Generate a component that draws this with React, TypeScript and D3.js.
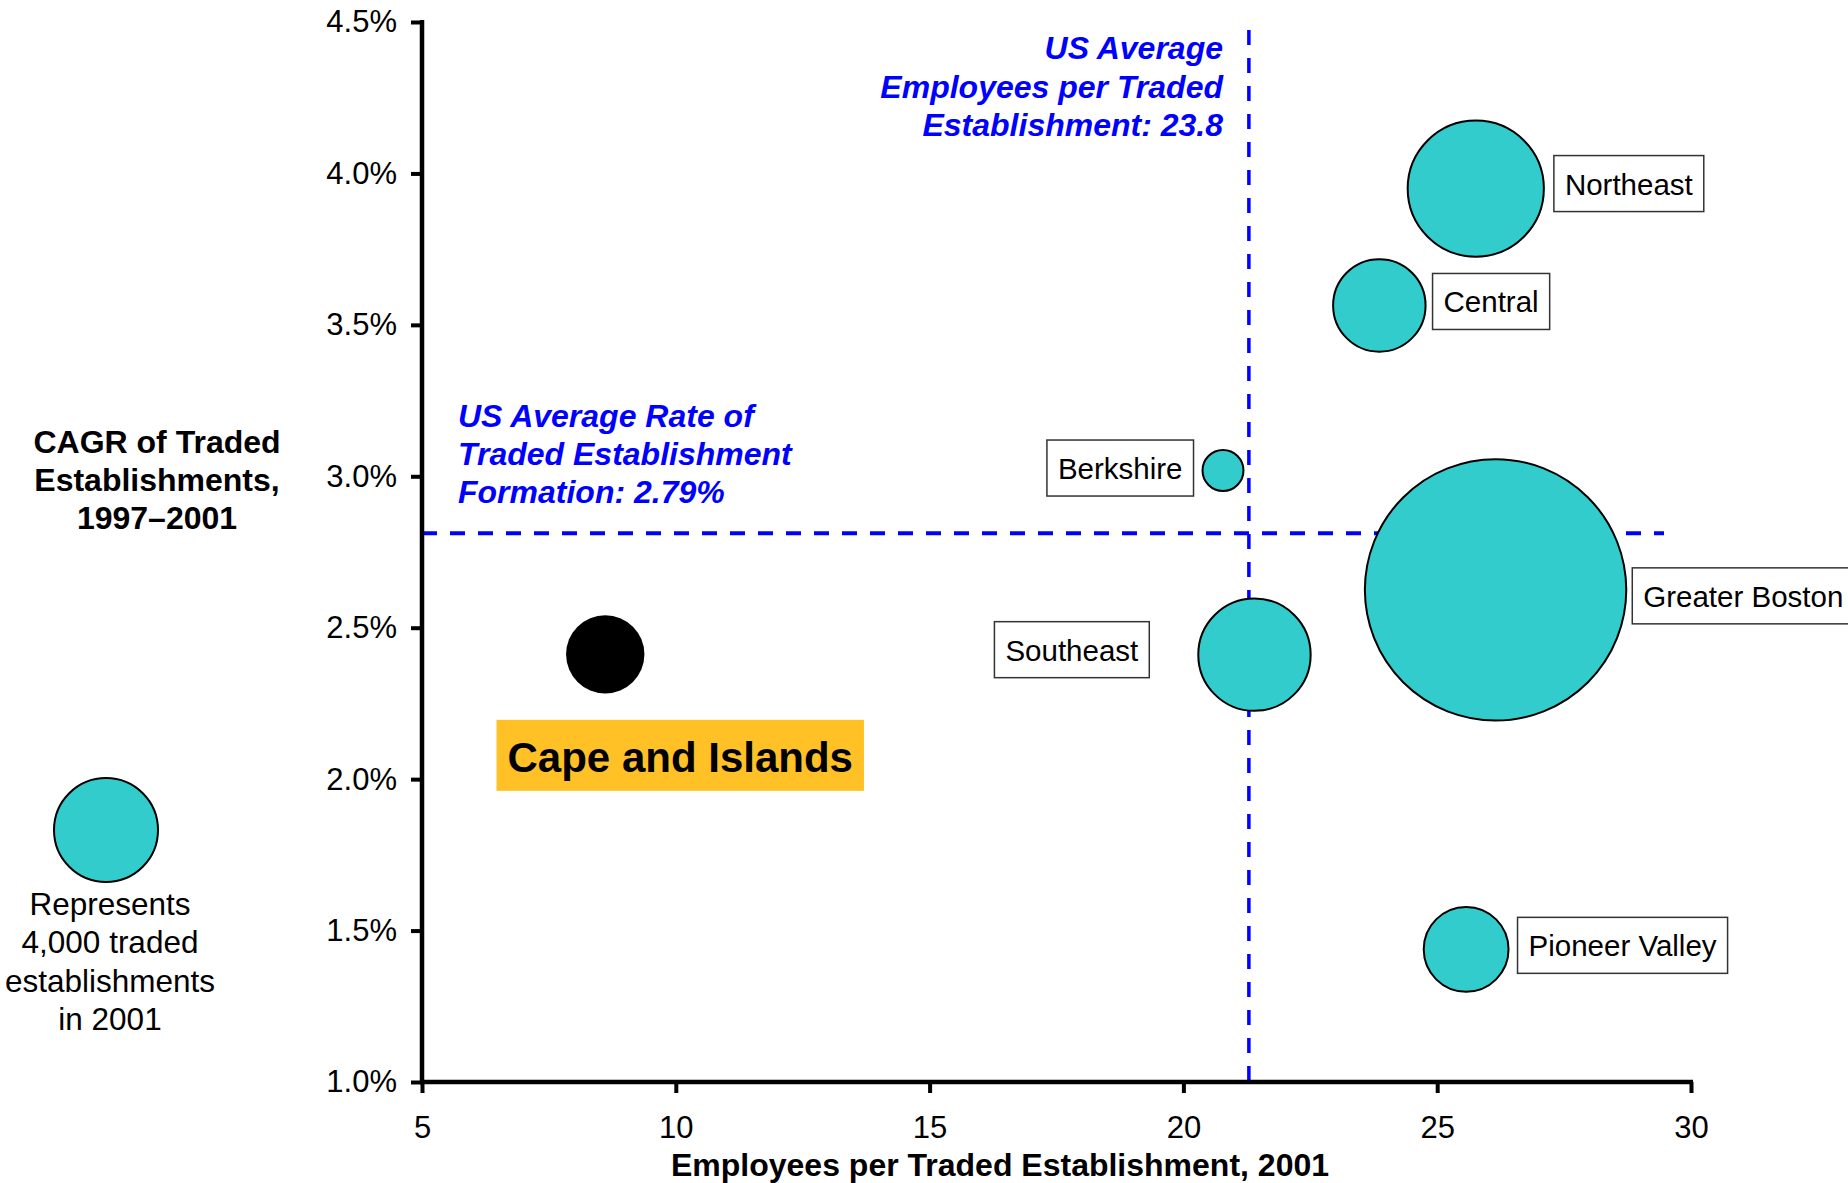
import React, { useEffect, useRef } from 'react';
import * as d3 from 'd3';

// ---------- data ----------
const regions = ['Northeast', 'Central', 'Berkshire', 'Greater Boston', 'Southeast', 'Cape and Islands', 'Pioneer Valley'];
const employeesPerEstablishment = [25.76, 23.86, 20.78, 26.15, 21.4, 8.61, 25.57];
const cagrPercent = [3.95, 3.564, 3.019, 2.625, 2.411, 2.412, 1.438];
const tradedEstablishments = [6860, 3160, 620, 25270, 4670, 2270, 2660];
const highlightRegion = 'Cape and Islands';

const xTicks = [5, 10, 15, 20, 25, 30];
const yTicks = [1.0, 1.5, 2.0, 2.5, 3.0, 3.5, 4.0, 4.5];

const usAvgEmployeesLine = 21.29; // where the reference line is drawn
const usAvgCagrLine = 2.812;
const legendValue = 4000;

const xTitle = 'Employees per Traded Establishment, 2001';
const yTitleLines = ['CAGR of Traded', 'Establishments,', '1997\u20132001'];
const vAnnotation = ['US Average', 'Employees per Traded', 'Establishment: 23.8'];
const hAnnotation = ['US Average Rate of', 'Traded Establishment', 'Formation: 2.79%'];
const legendLines = ['Represents', '4,000 traded', 'establishments', 'in 2001'];

// ---------- layout ----------
const W = 1848;
const H = 1183;
const FONT = '"Liberation Sans", Arial, Helvetica, sans-serif';
const TEAL = '#33CCCC';
const BLUE = '#0000FF';
const ORANGE = '#FFC125';

const labelLayout: Record<string, { side: 'left' | 'right'; gap: number; dy: number }> = {
  Northeast: { side: 'right', gap: 10, dy: -5 },
  Central: { side: 'right', gap: 7, dy: -4 },
  Berkshire: { side: 'left', gap: 9, dy: -2.5 },
  'Greater Boston': { side: 'right', gap: 6, dy: 6 },
  Southeast: { side: 'left', gap: 49, dy: -5 },
  'Pioneer Valley': { side: 'right', gap: 9, dy: -4 },
};

export default function App() {
  const ref = useRef<SVGSVGElement | null>(null);

  useEffect(() => {
    document.body.style.margin = '0';
    const svg = d3.select(ref.current);
    svg.selectAll('*').remove();

    const x = d3.scaleLinear().domain([5, 30]).range([422, 1691]);
    const y = d3.scaleLinear().domain([1, 4.5]).range([1082, 22]);
    const r = d3.scaleSqrt().domain([0, legendValue]).range([0, 52]);

    const g = svg.append('g').attr('font-family', FONT);

    // reference lines
    g.append('line')
      .attr('x1', x(5)).attr('x2', 1664)
      .attr('y1', y(usAvgCagrLine)).attr('y2', y(usAvgCagrLine))
      .attr('stroke', BLUE).attr('stroke-width', 4).attr('stroke-dasharray', '15,13');
    g.append('line')
      .attr('x1', x(usAvgEmployeesLine)).attr('x2', x(usAvgEmployeesLine))
      .attr('y1', 30).attr('y2', y(1))
      .attr('stroke', BLUE).attr('stroke-width', 3.5).attr('stroke-dasharray', '15,13');

    // annotations
    const vAnn = g.append('text')
      .attr('fill', BLUE).attr('font-weight', 'bold').attr('font-style', 'italic')
      .attr('font-size', 32).attr('text-anchor', 'end');
    vAnnotation.forEach((t, i) => {
      vAnn.append('tspan').attr('x', 1223).attr('y', 59 + i * 38.5).text(t);
    });
    const hAnn = g.append('text')
      .attr('fill', BLUE).attr('font-weight', 'bold').attr('font-style', 'italic')
      .attr('font-size', 32).attr('text-anchor', 'start');
    hAnnotation.forEach((t, i) => {
      hAnn.append('tspan').attr('x', 458).attr('y', 427 + i * 38).text(t);
    });

    // axes
    const yAxis = d3.axisLeft(y).tickValues(yTicks).tickSize(11).tickPadding(14)
      .tickFormat((d: any) => d3.format('.1f')(d) + '%');
    const yg = g.append('g').attr('transform', `translate(${x(5)},0)`).call(yAxis);
    const xAxis = d3.axisBottom(x).tickValues(xTicks).tickSize(11).tickPadding(23)
      .tickFormat((d: any) => String(d));
    const xg = g.append('g').attr('transform', `translate(0,${y(1)})`).call(xAxis);
    [yg, xg].forEach((ax) => {
      ax.select('.domain').remove();
      ax.selectAll('.tick line').attr('stroke', '#000').attr('stroke-width', 4);
      ax.selectAll('.tick text').attr('fill', '#000').attr('font-size', 31).attr('font-family', FONT);
    });
    g.append('line').attr('x1', x(5)).attr('x2', x(5)).attr('y1', y(4.5) - 2).attr('y2', y(1) + 2)
      .attr('stroke', '#000').attr('stroke-width', 4.5);
    g.append('line').attr('x1', x(5) - 2).attr('x2', x(30) + 2).attr('y1', y(1)).attr('y2', y(1))
      .attr('stroke', '#000').attr('stroke-width', 4.5);

    // axis titles
    g.append('text').attr('x', 1000).attr('y', 1176).attr('text-anchor', 'middle')
      .attr('font-weight', 'bold').attr('font-size', 32).text(xTitle);
    const yt = g.append('text').attr('text-anchor', 'middle').attr('font-weight', 'bold').attr('font-size', 32);
    yTitleLines.forEach((t, i) => yt.append('tspan').attr('x', 157).attr('y', 453 + i * 38).text(t));

    // bubbles
    const data = regions.map((name, i) => ({
      name,
      x: employeesPerEstablishment[i],
      y: cagrPercent[i],
      v: tradedEstablishments[i],
    }));
    g.append('g').selectAll('circle').data(data).join('circle')
      .attr('cx', (d) => x(d.x)).attr('cy', (d) => y(d.y)).attr('r', (d) => r(d.v))
      .attr('fill', (d) => (d.name === highlightRegion ? '#000' : TEAL))
      .attr('stroke', (d) => (d.name === highlightRegion ? 'none' : '#000'))
      .attr('stroke-width', 2);

    // boxed labels
    const labels = g.append('g');
    data.filter((d) => labelLayout[d.name]).forEach((d) => {
      const lay = labelLayout[d.name];
      const cx = x(d.x), cy = y(d.y), rr = r(d.v);
      const lg = labels.append('g');
      const rect = lg.append('rect').attr('fill', '#fff').attr('stroke', '#333').attr('stroke-width', 1.5);
      const txt = lg.append('text').attr('font-size', 29.5).attr('fill', '#000').text(d.name);
      const w = (txt.node() as SVGTextElement).getComputedTextLength();
      const bw = w + 22, bh = 56;
      const bx = lay.side === 'right' ? cx + rr + lay.gap : cx - rr - lay.gap - bw;
      const by = cy + lay.dy - bh / 2;
      rect.attr('x', bx).attr('y', by).attr('width', bw).attr('height', bh);
      txt.attr('x', bx + 11).attr('y', by + bh / 2 + 11);
    });

    // highlighted label
    const hd = data.find((d) => d.name === highlightRegion)!;
    const hg = g.append('g');
    const hrect = hg.append('rect').attr('fill', ORANGE);
    const htxt = hg.append('text').attr('font-size', 42).attr('font-weight', 'bold').attr('fill', '#000')
      .attr('text-anchor', 'middle').text(hd.name);
    const hw = (htxt.node() as SVGTextElement).getComputedTextLength();
    const hcx = x(hd.x) + 75;
    const htop = y(hd.y) + 65.5;
    hrect.attr('x', hcx - hw / 2 - 11).attr('y', htop).attr('width', hw + 22).attr('height', 71);
    htxt.attr('x', hcx).attr('y', htop + 52);

    // size legend
    g.append('circle').attr('cx', 106).attr('cy', 830).attr('r', r(legendValue))
      .attr('fill', TEAL).attr('stroke', '#000').attr('stroke-width', 2);
    const lt = g.append('text').attr('text-anchor', 'middle').attr('font-size', 31.5).attr('fill', '#000');
    legendLines.forEach((t, i) => lt.append('tspan').attr('x', 110).attr('y', 915 + i * 38.3).text(t));
  }, []);

  return (
    <svg
      ref={ref}
      width={W}
      height={H}
      viewBox={`0 0 ${W} ${H}`}
      style={{ position: 'absolute', left: 0, top: 0, display: 'block', background: '#fff' }}
    />
  );
}
